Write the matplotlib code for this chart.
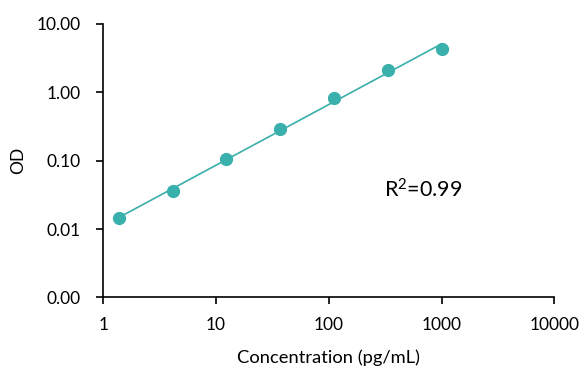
import numpy as np
import matplotlib.pyplot as plt
from matplotlib.ticker import FixedLocator, FixedFormatter

plt.rcParams['font.family'] = ['Lato', 'DejaVu Sans']
plt.rcParams['mathtext.fontset'] = 'custom'
plt.rcParams['mathtext.rm'] = 'Lato'
plt.rcParams['mathtext.default'] = 'regular'

# standard curve data (3-fold dilutions)
concentration = [1.37, 4.12, 12.35, 37.04, 111.1, 333.3, 1000]
od = [0.0143, 0.0366, 0.105, 0.29, 0.82, 2.12, 4.3]

x_ticks = [1, 10, 100, 1000, 10000]
x_labels = ['1', '10', '100', '1000', '10000']
y_ticks = [0.001, 0.01, 0.1, 1, 10]
y_labels = ['0.00', '0.01', '0.10', '1.00', '10.00']

teal = '#3AB0AC'

fig = plt.figure(figsize=(5.86, 3.9), dpi=100)
ax = fig.add_axes([0.1763, 0.2372, 0.7696, 0.7013])

# fit in log-log space
lx = np.log10(concentration)
ly = np.log10(od)
slope, icpt = np.polyfit(lx, ly, 1)
fit_x = np.array([concentration[0], concentration[-1]])
fit_y = 10 ** (icpt + slope * np.log10(fit_x))

ax.plot(fit_x, fit_y, color=teal, lw=1.2, zorder=2)
ax.plot(concentration, od, 'o', color=teal, markersize=8.5, zorder=3)

ax.set_xscale('log')
ax.set_yscale('log')
ax.set_xlim(1, 10000)
ax.set_ylim(0.001, 10)

ax.xaxis.set_major_locator(FixedLocator(x_ticks))
ax.xaxis.set_major_formatter(FixedFormatter(x_labels))
ax.xaxis.set_minor_locator(FixedLocator([]))
ax.yaxis.set_major_locator(FixedLocator(y_ticks))
ax.yaxis.set_major_formatter(FixedFormatter(y_labels))
ax.yaxis.set_minor_locator(FixedLocator([]))

ax.spines['top'].set_visible(False)
ax.spines['right'].set_visible(False)
ax.tick_params(axis='both', length=5, width=1.2, labelsize=12.5, direction='out')
ax.tick_params(axis='x', pad=9)
ax.tick_params(axis='y', pad=11)
for s in ['left', 'bottom']:
    ax.spines[s].set_linewidth(1.2)

ax.set_xlabel('Concentration (pg/mL)', fontsize=13.2, labelpad=12)
ax.set_ylabel('OD', fontsize=12.5, labelpad=8)

ax.text(310, 0.0378, 'R$^2$=0.99', fontsize=15.5, va='center', ha='left')

fig.savefig('out.png', dpi=100)
